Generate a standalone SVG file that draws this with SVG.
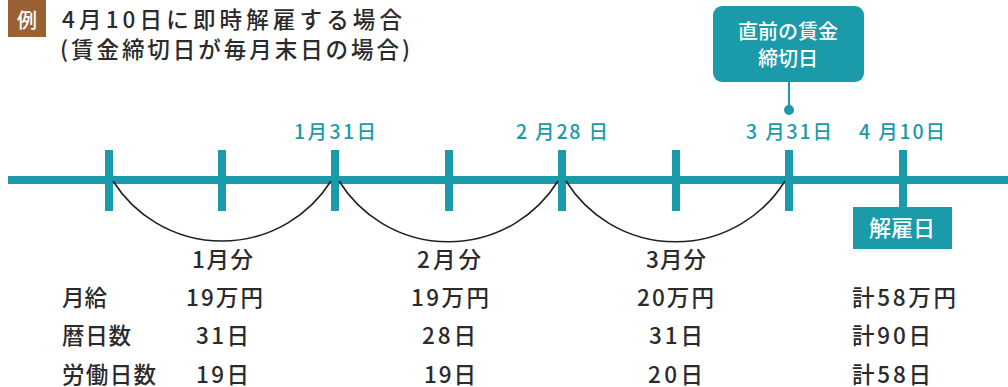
<svg xmlns="http://www.w3.org/2000/svg" width="1008" height="387" viewBox="0 0 1008 387">
<style>
text{font-family:"Noto Sans CJK JP","Noto Sans",sans-serif;}
.t{fill:#2b2b2b;font-size:22.5px;font-weight:500;}
.h{fill:#2b2b2b;font-size:22.5px;font-weight:500;}
.d{fill:#1b9aaa;font-size:19.5px;font-weight:500;}
.w{fill:#ffffff;font-weight:500;text-anchor:middle;}
.tick{stroke:#1b9aaa;stroke-width:8;}
.arc{fill:none;stroke:#231f20;stroke-width:1.6;}
</style>
<rect width="1008" height="387" fill="#ffffff"/>
<g id="title">
<rect x="8" y="0" width="38" height="37" fill="#9a6233"/>
<text class="w" x="27" y="28" font-size="20">例</text>
<text class="h" x="62" y="28" textLength="340" lengthAdjust="spacing">4月10日に即時解雇する場合</text>
<text class="h" x="60" y="58" textLength="350" lengthAdjust="spacing">(賃金締切日が毎月末日の場合)</text>
</g>
<g id="connectors">
<line x1="8" y1="180" x2="1008" y2="180" class="tick"/>
<line x1="109" y1="150" x2="109" y2="211" class="tick"/>
<line x1="222" y1="150" x2="222" y2="211" class="tick"/>
<line x1="335" y1="150" x2="335" y2="211" class="tick"/>
<line x1="449" y1="150" x2="449" y2="211" class="tick"/>
<line x1="562" y1="150" x2="562" y2="211" class="tick"/>
<line x1="676" y1="150" x2="676" y2="211" class="tick"/>
<line x1="789" y1="150" x2="789" y2="211" class="tick"/>
<line x1="903" y1="150" x2="903" y2="211" class="tick"/>
<path class="arc" d="M113 181 A129 129 0 0 0 331 181"/>
<path class="arc" d="M339 181 A129 129 0 0 0 558 181"/>
<path class="arc" d="M566 181 A129 129 0 0 0 785 181"/>
<line x1="789" y1="82" x2="789" y2="110" stroke="#1b9aaa" stroke-width="2"/>
<circle cx="789" cy="110" r="5" fill="#1b9aaa"/>
</g>
<g id="date-labels">
<text class="d" x="294" y="139" textLength="82" lengthAdjust="spacing">1月31日</text>
<text class="d" x="516" y="139" textLength="92" lengthAdjust="spacing">2 月28 日</text>
<text class="d" x="746" y="139" textLength="86" lengthAdjust="spacing">3 月31日</text>
<text class="d" x="859" y="139" textLength="86" lengthAdjust="spacing">4 月10日</text>
</g>
<g id="callout">
<rect x="713" y="6" width="151" height="76" rx="9" fill="#1b9aaa"/>
<text class="w" x="788" y="39" font-size="20">直前の賃金</text>
<text class="w" x="788" y="66" font-size="20">締切日</text>
</g>
<g id="dismissal">
<rect x="853" y="207" width="99" height="42" fill="#1b9aaa"/>
<text class="w" x="902" y="236" font-size="22">解雇日</text>
</g>
<g id="month-labels">
<text class="t" x="192" y="268" textLength="61" lengthAdjust="spacing">1月分</text>
<text class="t" x="417" y="268" textLength="64" lengthAdjust="spacing">2月分</text>
<text class="t" x="646" y="268" textLength="60" lengthAdjust="spacing">3月分</text>
</g>
<g id="table">
<text class="t" x="62" y="306">月給</text>
<text class="t" x="186" y="306" textLength="77" lengthAdjust="spacing">19万円</text>
<text class="t" x="411" y="306" textLength="78" lengthAdjust="spacing">19万円</text>
<text class="t" x="637" y="306" textLength="77" lengthAdjust="spacing">20万円</text>
<text class="t" x="852" y="306" textLength="104" lengthAdjust="spacing">計58万円</text>
<text class="t" x="62" y="344" textLength="69" lengthAdjust="spacing">暦日数</text>
<text class="t" x="196" y="344" textLength="53" lengthAdjust="spacing">31日</text>
<text class="t" x="422" y="344" textLength="54" lengthAdjust="spacing">28日</text>
<text class="t" x="649" y="344" textLength="54" lengthAdjust="spacing">31日</text>
<text class="t" x="852" y="344" textLength="79" lengthAdjust="spacing">計90日</text>
<text class="t" x="62" y="383" textLength="94" lengthAdjust="spacing">労働日数</text>
<text class="t" x="196" y="383" textLength="53" lengthAdjust="spacing">19日</text>
<text class="t" x="424" y="383" textLength="52" lengthAdjust="spacing">19日</text>
<text class="t" x="648" y="383" textLength="55" lengthAdjust="spacing">20日</text>
<text class="t" x="852" y="383" textLength="79" lengthAdjust="spacing">計58日</text>
</g>
</svg>
